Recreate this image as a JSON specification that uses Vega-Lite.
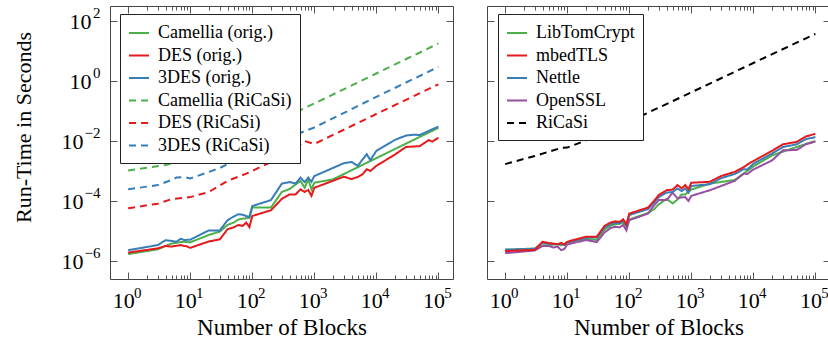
{
  "$schema": "https://vega.github.io/schema/vega-lite/v6.json",
  "background": "white",
  "padding": {"left": 11, "top": 5, "right": 3, "bottom": 2},
  "config": {
    "font": "Liberation Serif",
    "style": {"guide-label": {"font": "Liberation Serif"}, "guide-title": {"font": "Liberation Serif"}},
    "text": {"font": "Liberation Serif"},
    "view": {"stroke": "#444", "strokeWidth": 1},
    "axis": {"grid": false, "domain": false, "tickColor": "#555", "tickWidth": 1, "labelFont": "Liberation Serif", "titleFont": "Liberation Serif", "labelFontSize": 22, "titleFontSize": 22, "titleFontWeight": "normal", "labelColor": "#000", "titleColor": "#000", "labelFlush": false, "labelOverlap": false},
    "legend": {"labelFont": "Liberation Serif", "titleFont": "Liberation Serif", "labelFontSize": 18, "labelColor": "#000"}
  },
  "spacing": 32,
  "resolve": {"scale": {"color": "independent", "strokeDash": "independent"}, "legend": {"color": "independent", "strokeDash": "independent"}},
  "datasets": {
    "left": [
      {"s": "Camellia (orig.)", "x": 1, "y": 1.70e-6}, {"s": "Camellia (orig.)", "x": 3, "y": 2.45e-6}, {"s": "Camellia (orig.)", "x": 4, "y": 3.16e-6}, {"s": "Camellia (orig.)", "x": 5, "y": 3.80e-6}, {"s": "Camellia (orig.)", "x": 7, "y": 4.27e-6}, {"s": "Camellia (orig.)", "x": 8, "y": 4.37e-6}, {"s": "Camellia (orig.)", "x": 10, "y": 4.17e-6}, {"s": "Camellia (orig.)", "x": 20, "y": 7.41e-6}, {"s": "Camellia (orig.)", "x": 30, "y": 9.55e-6}, {"s": "Camellia (orig.)", "x": 40, "y": 1.585e-5}, {"s": "Camellia (orig.)", "x": 50, "y": 1.905e-5}, {"s": "Camellia (orig.)", "x": 60, "y": 2.40e-5}, {"s": "Camellia (orig.)", "x": 70, "y": 2.57e-5}, {"s": "Camellia (orig.)", "x": 90, "y": 2.75e-5}, {"s": "Camellia (orig.)", "x": 100, "y": 6.03e-5}, {"s": "Camellia (orig.)", "x": 200, "y": 6.03e-5}, {"s": "Camellia (orig.)", "x": 300, "y": 2.0e-4}, {"s": "Camellia (orig.)", "x": 400, "y": 2.51e-4}, {"s": "Camellia (orig.)", "x": 500, "y": 3.55e-4}, {"s": "Camellia (orig.)", "x": 600, "y": 4.68e-4}, {"s": "Camellia (orig.)", "x": 700, "y": 2.75e-4}, {"s": "Camellia (orig.)", "x": 800, "y": 5.25e-4}, {"s": "Camellia (orig.)", "x": 900, "y": 2.45e-4}, {"s": "Camellia (orig.)", "x": 1000, "y": 4.07e-4}, {"s": "Camellia (orig.)", "x": 2000, "y": 5.25e-4}, {"s": "Camellia (orig.)", "x": 10000, "y": 2.69e-3}, {"s": "Camellia (orig.)", "x": 100000, "y": 2.75e-2},
      {"s": "DES (orig.)", "x": 1, "y": 1.91e-6}, {"s": "DES (orig.)", "x": 3, "y": 2.63e-6}, {"s": "DES (orig.)", "x": 4, "y": 3.16e-6}, {"s": "DES (orig.)", "x": 5, "y": 3.02e-6}, {"s": "DES (orig.)", "x": 7, "y": 3.39e-6}, {"s": "DES (orig.)", "x": 9, "y": 3.02e-6}, {"s": "DES (orig.)", "x": 10, "y": 2.75e-6}, {"s": "DES (orig.)", "x": 20, "y": 4.47e-6}, {"s": "DES (orig.)", "x": 30, "y": 5.25e-6}, {"s": "DES (orig.)", "x": 40, "y": 1.148e-5}, {"s": "DES (orig.)", "x": 50, "y": 1.318e-5}, {"s": "DES (orig.)", "x": 60, "y": 1.585e-5}, {"s": "DES (orig.)", "x": 70, "y": 1.479e-5}, {"s": "DES (orig.)", "x": 80, "y": 1.905e-5}, {"s": "DES (orig.)", "x": 90, "y": 1.349e-5}, {"s": "DES (orig.)", "x": 100, "y": 3.16e-5}, {"s": "DES (orig.)", "x": 200, "y": 4.90e-5}, {"s": "DES (orig.)", "x": 300, "y": 1.175e-4}, {"s": "DES (orig.)", "x": 400, "y": 1.66e-4}, {"s": "DES (orig.)", "x": 500, "y": 1.66e-4}, {"s": "DES (orig.)", "x": 600, "y": 2.45e-4}, {"s": "DES (orig.)", "x": 700, "y": 2.0e-4}, {"s": "DES (orig.)", "x": 800, "y": 2.34e-4}, {"s": "DES (orig.)", "x": 900, "y": 1.48e-4}, {"s": "DES (orig.)", "x": 1000, "y": 2.75e-4}, {"s": "DES (orig.)", "x": 3000, "y": 6.46e-4}, {"s": "DES (orig.)", "x": 4000, "y": 5.37e-4}, {"s": "DES (orig.)", "x": 5000, "y": 6.31e-4}, {"s": "DES (orig.)", "x": 6000, "y": 7.76e-4}, {"s": "DES (orig.)", "x": 7000, "y": 1.148e-3}, {"s": "DES (orig.)", "x": 8000, "y": 1.0e-3}, {"s": "DES (orig.)", "x": 10000, "y": 1.479e-3}, {"s": "DES (orig.)", "x": 20000, "y": 3.55e-3}, {"s": "DES (orig.)", "x": 30000, "y": 6.31e-3}, {"s": "DES (orig.)", "x": 50000, "y": 6.76e-3}, {"s": "DES (orig.)", "x": 70000, "y": 1.072e-2}, {"s": "DES (orig.)", "x": 80000, "y": 9.55e-3}, {"s": "DES (orig.)", "x": 100000, "y": 1.288e-2},
      {"s": "3DES (orig.)", "x": 1, "y": 2.29e-6}, {"s": "3DES (orig.)", "x": 3, "y": 3.39e-6}, {"s": "3DES (orig.)", "x": 4, "y": 4.90e-6}, {"s": "3DES (orig.)", "x": 5, "y": 4.68e-6}, {"s": "3DES (orig.)", "x": 6, "y": 4.37e-6}, {"s": "3DES (orig.)", "x": 7, "y": 5.50e-6}, {"s": "3DES (orig.)", "x": 8, "y": 5.01e-6}, {"s": "3DES (orig.)", "x": 10, "y": 5.13e-6}, {"s": "3DES (orig.)", "x": 20, "y": 1.047e-5}, {"s": "3DES (orig.)", "x": 30, "y": 1.047e-5}, {"s": "3DES (orig.)", "x": 40, "y": 2.29e-5}, {"s": "3DES (orig.)", "x": 50, "y": 3.02e-5}, {"s": "3DES (orig.)", "x": 60, "y": 3.63e-5}, {"s": "3DES (orig.)", "x": 70, "y": 3.47e-5}, {"s": "3DES (orig.)", "x": 80, "y": 3.16e-5}, {"s": "3DES (orig.)", "x": 90, "y": 2.95e-5}, {"s": "3DES (orig.)", "x": 100, "y": 6.76e-5}, {"s": "3DES (orig.)", "x": 200, "y": 1.072e-4}, {"s": "3DES (orig.)", "x": 300, "y": 3.80e-4}, {"s": "3DES (orig.)", "x": 400, "y": 4.27e-4}, {"s": "3DES (orig.)", "x": 500, "y": 3.80e-4}, {"s": "3DES (orig.)", "x": 600, "y": 6.03e-4}, {"s": "3DES (orig.)", "x": 700, "y": 4.27e-4}, {"s": "3DES (orig.)", "x": 800, "y": 6.03e-4}, {"s": "3DES (orig.)", "x": 900, "y": 4.37e-4}, {"s": "3DES (orig.)", "x": 1000, "y": 6.76e-4}, {"s": "3DES (orig.)", "x": 3000, "y": 1.82e-3}, {"s": "3DES (orig.)", "x": 4000, "y": 2.0e-3}, {"s": "3DES (orig.)", "x": 5000, "y": 1.479e-3}, {"s": "3DES (orig.)", "x": 7000, "y": 3.63e-3}, {"s": "3DES (orig.)", "x": 8000, "y": 2.29e-3}, {"s": "3DES (orig.)", "x": 10000, "y": 4.68e-3}, {"s": "3DES (orig.)", "x": 20000, "y": 1.096e-2}, {"s": "3DES (orig.)", "x": 30000, "y": 1.514e-2}, {"s": "3DES (orig.)", "x": 40000, "y": 1.622e-2}, {"s": "3DES (orig.)", "x": 50000, "y": 1.585e-2}, {"s": "3DES (orig.)", "x": 100000, "y": 3.02e-2},
      {"s": "Camellia (RiCaSi)", "x": 1, "y": 1.047e-3}, {"s": "Camellia (RiCaSi)", "x": 4, "y": 1.585e-3}, {"s": "Camellia (RiCaSi)", "x": 10, "y": 2.40e-3}, {"s": "Camellia (RiCaSi)", "x": 20, "y": 3.55e-3}, {"s": "Camellia (RiCaSi)", "x": 40, "y": 7.08e-3}, {"s": "Camellia (RiCaSi)", "x": 100, "y": 1.66e-2}, {"s": "Camellia (RiCaSi)", "x": 200, "y": 3.39e-2}, {"s": "Camellia (RiCaSi)", "x": 400, "y": 7.08e-2}, {"s": "Camellia (RiCaSi)", "x": 700, "y": 0.1259}, {"s": "Camellia (RiCaSi)", "x": 1000, "y": 0.1778}, {"s": "Camellia (RiCaSi)", "x": 10000, "y": 1.778}, {"s": "Camellia (RiCaSi)", "x": 100000, "y": 17.78},
      {"s": "DES (RiCaSi)", "x": 1, "y": 5.75e-5}, {"s": "DES (RiCaSi)", "x": 3, "y": 8.13e-5}, {"s": "DES (RiCaSi)", "x": 5, "y": 1.148e-4}, {"s": "DES (RiCaSi)", "x": 10, "y": 1.349e-4}, {"s": "DES (RiCaSi)", "x": 20, "y": 2.0e-4}, {"s": "DES (RiCaSi)", "x": 40, "y": 4.68e-4}, {"s": "DES (RiCaSi)", "x": 80, "y": 8.13e-4}, {"s": "DES (RiCaSi)", "x": 100, "y": 1.0e-3}, {"s": "DES (RiCaSi)", "x": 200, "y": 2.0e-3}, {"s": "DES (RiCaSi)", "x": 400, "y": 4.07e-3}, {"s": "DES (RiCaSi)", "x": 700, "y": 1.0e-2}, {"s": "DES (RiCaSi)", "x": 1000, "y": 7.94e-3}, {"s": "DES (RiCaSi)", "x": 10000, "y": 7.94e-2}, {"s": "DES (RiCaSi)", "x": 100000, "y": 0.776},
      {"s": "3DES (RiCaSi)", "x": 1, "y": 2.45e-4}, {"s": "3DES (RiCaSi)", "x": 3, "y": 3.39e-4}, {"s": "3DES (RiCaSi)", "x": 5, "y": 5.01e-4}, {"s": "3DES (RiCaSi)", "x": 6, "y": 6.03e-4}, {"s": "3DES (RiCaSi)", "x": 8, "y": 6.31e-4}, {"s": "3DES (RiCaSi)", "x": 10, "y": 5.62e-4}, {"s": "3DES (RiCaSi)", "x": 20, "y": 9.33e-4}, {"s": "3DES (RiCaSi)", "x": 30, "y": 1.259e-3}, {"s": "3DES (RiCaSi)", "x": 50, "y": 2.14e-3}, {"s": "3DES (RiCaSi)", "x": 100, "y": 3.98e-3}, {"s": "3DES (RiCaSi)", "x": 200, "y": 7.94e-3}, {"s": "3DES (RiCaSi)", "x": 400, "y": 1.318e-2}, {"s": "3DES (RiCaSi)", "x": 700, "y": 2.14e-2}, {"s": "3DES (RiCaSi)", "x": 1000, "y": 2.82e-2}, {"s": "3DES (RiCaSi)", "x": 10000, "y": 0.295}, {"s": "3DES (RiCaSi)", "x": 100000, "y": 2.95}
    ],
    "right": [
      {"s": "LibTomCrypt", "x": 1, "y": 2.34e-6}, {"s": "LibTomCrypt", "x": 3, "y": 2.63e-6}, {"s": "LibTomCrypt", "x": 4, "y": 3.31e-6}, {"s": "LibTomCrypt", "x": 5, "y": 3.39e-6}, {"s": "LibTomCrypt", "x": 7, "y": 3.63e-6}, {"s": "LibTomCrypt", "x": 8, "y": 3.31e-6}, {"s": "LibTomCrypt", "x": 10, "y": 4.17e-6}, {"s": "LibTomCrypt", "x": 20, "y": 5.50e-6}, {"s": "LibTomCrypt", "x": 30, "y": 5.01e-6}, {"s": "LibTomCrypt", "x": 40, "y": 1.122e-5}, {"s": "LibTomCrypt", "x": 50, "y": 1.514e-5}, {"s": "LibTomCrypt", "x": 60, "y": 1.66e-5}, {"s": "LibTomCrypt", "x": 70, "y": 1.738e-5}, {"s": "LibTomCrypt", "x": 80, "y": 1.905e-5}, {"s": "LibTomCrypt", "x": 90, "y": 1.413e-5}, {"s": "LibTomCrypt", "x": 100, "y": 2.40e-5}, {"s": "LibTomCrypt", "x": 200, "y": 3.98e-5}, {"s": "LibTomCrypt", "x": 250, "y": 5.25e-5}, {"s": "LibTomCrypt", "x": 300, "y": 7.76e-5}, {"s": "LibTomCrypt", "x": 400, "y": 1.175e-4}, {"s": "LibTomCrypt", "x": 500, "y": 8.32e-5}, {"s": "LibTomCrypt", "x": 600, "y": 1.122e-4}, {"s": "LibTomCrypt", "x": 700, "y": 1.66e-4}, {"s": "LibTomCrypt", "x": 800, "y": 1.66e-4}, {"s": "LibTomCrypt", "x": 900, "y": 2.0e-4}, {"s": "LibTomCrypt", "x": 1000, "y": 2.40e-4}, {"s": "LibTomCrypt", "x": 2000, "y": 3.80e-4}, {"s": "LibTomCrypt", "x": 5000, "y": 5.01e-4}, {"s": "LibTomCrypt", "x": 10000, "y": 1.413e-3}, {"s": "LibTomCrypt", "x": 20000, "y": 3.31e-3}, {"s": "LibTomCrypt", "x": 50000, "y": 6.31e-3}, {"s": "LibTomCrypt", "x": 80000, "y": 8.71e-3}, {"s": "LibTomCrypt", "x": 100000, "y": 1.0e-2},
      {"s": "OpenSSL", "x": 1, "y": 1.82e-6}, {"s": "OpenSSL", "x": 3, "y": 2.24e-6}, {"s": "OpenSSL", "x": 4, "y": 3.16e-6}, {"s": "OpenSSL", "x": 5, "y": 3.16e-6}, {"s": "OpenSSL", "x": 6, "y": 2.82e-6}, {"s": "OpenSSL", "x": 7, "y": 3.02e-6}, {"s": "OpenSSL", "x": 8, "y": 2.29e-6}, {"s": "OpenSSL", "x": 9, "y": 2.51e-6}, {"s": "OpenSSL", "x": 10, "y": 3.55e-6}, {"s": "OpenSSL", "x": 20, "y": 5.01e-6}, {"s": "OpenSSL", "x": 30, "y": 4.27e-6}, {"s": "OpenSSL", "x": 40, "y": 8.91e-6}, {"s": "OpenSSL", "x": 50, "y": 1.259e-5}, {"s": "OpenSSL", "x": 60, "y": 1.38e-5}, {"s": "OpenSSL", "x": 70, "y": 1.318e-5}, {"s": "OpenSSL", "x": 80, "y": 1.585e-5}, {"s": "OpenSSL", "x": 90, "y": 1.047e-5}, {"s": "OpenSSL", "x": 100, "y": 2.29e-5}, {"s": "OpenSSL", "x": 200, "y": 3.80e-5}, {"s": "OpenSSL", "x": 250, "y": 7.08e-5}, {"s": "OpenSSL", "x": 300, "y": 1.072e-4}, {"s": "OpenSSL", "x": 400, "y": 1.072e-4}, {"s": "OpenSSL", "x": 500, "y": 1.905e-4}, {"s": "OpenSSL", "x": 600, "y": 1.23e-4}, {"s": "OpenSSL", "x": 700, "y": 1.318e-4}, {"s": "OpenSSL", "x": 800, "y": 1.349e-4}, {"s": "OpenSSL", "x": 900, "y": 1.0e-4}, {"s": "OpenSSL", "x": 1000, "y": 1.479e-4}, {"s": "OpenSSL", "x": 2000, "y": 2.29e-4}, {"s": "OpenSSL", "x": 5000, "y": 4.68e-4}, {"s": "OpenSSL", "x": 7000, "y": 8.13e-4}, {"s": "OpenSSL", "x": 8000, "y": 7.94e-4}, {"s": "OpenSSL", "x": 10000, "y": 1.122e-3}, {"s": "OpenSSL", "x": 20000, "y": 2.24e-3}, {"s": "OpenSSL", "x": 30000, "y": 4.90e-3}, {"s": "OpenSSL", "x": 50000, "y": 5.01e-3}, {"s": "OpenSSL", "x": 70000, "y": 7.76e-3}, {"s": "OpenSSL", "x": 100000, "y": 9.55e-3},
      {"s": "Nettle", "x": 1, "y": 2.40e-6}, {"s": "Nettle", "x": 3, "y": 2.51e-6}, {"s": "Nettle", "x": 4, "y": 4.07e-6}, {"s": "Nettle", "x": 5, "y": 3.80e-6}, {"s": "Nettle", "x": 7, "y": 3.63e-6}, {"s": "Nettle", "x": 8, "y": 3.80e-6}, {"s": "Nettle", "x": 9, "y": 3.39e-6}, {"s": "Nettle", "x": 10, "y": 4.17e-6}, {"s": "Nettle", "x": 20, "y": 6.03e-6}, {"s": "Nettle", "x": 30, "y": 6.03e-6}, {"s": "Nettle", "x": 40, "y": 1.318e-5}, {"s": "Nettle", "x": 50, "y": 1.698e-5}, {"s": "Nettle", "x": 60, "y": 1.862e-5}, {"s": "Nettle", "x": 70, "y": 1.82e-5}, {"s": "Nettle", "x": 80, "y": 2.19e-5}, {"s": "Nettle", "x": 90, "y": 1.514e-5}, {"s": "Nettle", "x": 100, "y": 3.39e-5}, {"s": "Nettle", "x": 200, "y": 5.37e-5}, {"s": "Nettle", "x": 250, "y": 8.71e-5}, {"s": "Nettle", "x": 300, "y": 1.349e-4}, {"s": "Nettle", "x": 400, "y": 1.905e-4}, {"s": "Nettle", "x": 500, "y": 2.0e-4}, {"s": "Nettle", "x": 600, "y": 2.63e-4}, {"s": "Nettle", "x": 700, "y": 2.14e-4}, {"s": "Nettle", "x": 800, "y": 2.63e-4}, {"s": "Nettle", "x": 900, "y": 1.905e-4}, {"s": "Nettle", "x": 1000, "y": 3.16e-4}, {"s": "Nettle", "x": 2000, "y": 3.63e-4}, {"s": "Nettle", "x": 3000, "y": 5.75e-4}, {"s": "Nettle", "x": 5000, "y": 7.94e-4}, {"s": "Nettle", "x": 7000, "y": 1.148e-3}, {"s": "Nettle", "x": 8000, "y": 1.122e-3}, {"s": "Nettle", "x": 10000, "y": 1.738e-3}, {"s": "Nettle", "x": 20000, "y": 3.80e-3}, {"s": "Nettle", "x": 30000, "y": 6.31e-3}, {"s": "Nettle", "x": 50000, "y": 7.76e-3}, {"s": "Nettle", "x": 70000, "y": 1.148e-2}, {"s": "Nettle", "x": 100000, "y": 1.349e-2},
      {"s": "mbedTLS", "x": 1, "y": 2.14e-6}, {"s": "mbedTLS", "x": 3, "y": 2.34e-6}, {"s": "mbedTLS", "x": 4, "y": 4.37e-6}, {"s": "mbedTLS", "x": 5, "y": 3.98e-6}, {"s": "mbedTLS", "x": 7, "y": 3.63e-6}, {"s": "mbedTLS", "x": 8, "y": 3.98e-6}, {"s": "mbedTLS", "x": 9, "y": 3.55e-6}, {"s": "mbedTLS", "x": 10, "y": 4.37e-6}, {"s": "mbedTLS", "x": 20, "y": 6.46e-6}, {"s": "mbedTLS", "x": 30, "y": 6.46e-6}, {"s": "mbedTLS", "x": 40, "y": 1.479e-5}, {"s": "mbedTLS", "x": 50, "y": 1.905e-5}, {"s": "mbedTLS", "x": 60, "y": 2.09e-5}, {"s": "mbedTLS", "x": 70, "y": 2.0e-5}, {"s": "mbedTLS", "x": 80, "y": 2.45e-5}, {"s": "mbedTLS", "x": 90, "y": 1.66e-5}, {"s": "mbedTLS", "x": 100, "y": 3.80e-5}, {"s": "mbedTLS", "x": 200, "y": 6.03e-5}, {"s": "mbedTLS", "x": 250, "y": 1.0e-4}, {"s": "mbedTLS", "x": 300, "y": 1.585e-4}, {"s": "mbedTLS", "x": 400, "y": 2.29e-4}, {"s": "mbedTLS", "x": 500, "y": 2.40e-4}, {"s": "mbedTLS", "x": 600, "y": 3.39e-4}, {"s": "mbedTLS", "x": 700, "y": 2.63e-4}, {"s": "mbedTLS", "x": 800, "y": 3.39e-4}, {"s": "mbedTLS", "x": 900, "y": 2.45e-4}, {"s": "mbedTLS", "x": 1000, "y": 4.07e-4}, {"s": "mbedTLS", "x": 2000, "y": 4.37e-4}, {"s": "mbedTLS", "x": 3000, "y": 6.76e-4}, {"s": "mbedTLS", "x": 5000, "y": 9.33e-4}, {"s": "mbedTLS", "x": 7000, "y": 1.349e-3}, {"s": "mbedTLS", "x": 9000, "y": 1.905e-3}, {"s": "mbedTLS", "x": 20000, "y": 4.68e-3}, {"s": "mbedTLS", "x": 30000, "y": 7.76e-3}, {"s": "mbedTLS", "x": 50000, "y": 9.33e-3}, {"s": "mbedTLS", "x": 70000, "y": 1.413e-2}, {"s": "mbedTLS", "x": 100000, "y": 1.738e-2},
      {"s": "RiCaSi", "x": 1, "y": 1.698e-3}, {"s": "RiCaSi", "x": 3, "y": 3.16e-3}, {"s": "RiCaSi", "x": 8, "y": 5.89e-3}, {"s": "RiCaSi", "x": 10, "y": 6.03e-3}, {"s": "RiCaSi", "x": 20, "y": 1.047e-2}, {"s": "RiCaSi", "x": 40, "y": 1.905e-2}, {"s": "RiCaSi", "x": 100, "y": 4.47e-2}, {"s": "RiCaSi", "x": 1000, "y": 0.417}, {"s": "RiCaSi", "x": 10000, "y": 3.98}, {"s": "RiCaSi", "x": 100000, "y": 37.2}
    ]
  },
  "hconcat": [
    {
      "width": 343, "height": 273,
      "data": {"name": "left"},
      "resolve": {"axis": {"x": "independent", "y": "independent"}},
      "layer": [
        {
          "mark": {"type": "line", "strokeWidth": 2, "clip": true},
          "encoding": {
            "x": {"field": "x", "type": "quantitative", "scale": {"type": "log", "domain": [0.51, 172000], "nice": false},
              "axis": {"orient": "bottom", "title": "Number of Blocks", "titleFontSize": 23, "values": [1, 10, 100, 1000, 10000, 100000], "ticks": false, "labelExpr": "'10'", "labelFontSize": 22, "labelOffset": -5, "labelPadding": 11, "titlePadding": 5}},
            "y": {"field": "y", "type": "quantitative", "scale": {"type": "log", "domain": [2.51e-7, 316], "nice": false},
              "axis": {"orient": "left", "title": "Run-Time in Seconds", "titleY": 121, "values": [1e-6, 1e-4, 1e-2, 1, 100], "ticks": false, "labelExpr": "'10'", "labelFontSize": 22, "labelOffset": 1,
                "labelPadding": {"condition": {"test": "datum.value < 0.5", "value": 27}, "value": 19}, "titlePadding": 26}},
            "color": {"field": "s", "type": "nominal",
              "scale": {"domain": ["Camellia (orig.)", "DES (orig.)", "3DES (orig.)", "Camellia (RiCaSi)", "DES (RiCaSi)", "3DES (RiCaSi)"], "range": ["#4daf4a", "#e41a1c", "#377eb8", "#4daf4a", "#e41a1c", "#377eb8"]},
              "legend": {"title": null, "orient": "none", "legendX": 10, "legendY": 8, "symbolType": "stroke", "symbolSize": 400, "symbolStrokeWidth": 2, "rowPadding": 2.5, "padding": 8, "labelOffset": 8, "labelFont": "Liberation Serif", "labelFontSize": 18, "strokeColor": "#222", "fillColor": "white"}},
            "strokeDash": {"field": "s", "type": "nominal",
              "scale": {"domain": ["Camellia (orig.)", "DES (orig.)", "3DES (orig.)", "Camellia (RiCaSi)", "DES (RiCaSi)", "3DES (RiCaSi)"], "range": [[1, 0], [1, 0], [1, 0], [7, 5], [7, 5], [7, 5]]},
              "legend": {"title": null, "orient": "none", "legendX": 10, "legendY": 8, "symbolType": "stroke", "symbolSize": 400, "symbolStrokeWidth": 2, "rowPadding": 2.5, "padding": 8, "labelOffset": 8, "labelFont": "Liberation Serif", "labelFontSize": 18, "strokeColor": "#222", "fillColor": "white"}}
          }
        },
        {
          "mark": {"type": "point", "opacity": 0},
          "encoding": {
            "x": {"field": "x", "type": "quantitative", "axis": {"orient": "top", "title": null, "labels": false, "values": [1,2,3,4,5,6,7,8,9,10,20,30,40,50,60,70,80,90,100,200,300,400,500,600,700,800,900,1000,2000,3000,4000,5000,6000,7000,8000,9000,10000,20000,30000,40000,50000,60000,70000,80000,90000,100000],
              "tickSize": {"condition": {"test": "abs(log(datum.value)/LN10 - round(log(datum.value)/LN10)) < 0.01", "value": -7}, "value": -4}}},
            "y": {"field": "y", "type": "quantitative", "axis": {"orient": "right", "title": null, "labels": false, "values": [1e-6, 1e-4, 1e-2, 1, 100], "tickSize": -7}}
          }
        },
        {
          "mark": {"type": "point", "opacity": 0},
          "encoding": {
            "x": {"field": "x", "type": "quantitative", "axis": {"orient": "bottom", "title": null, "labels": false, "values": [1,2,3,4,5,6,7,8,9,10,20,30,40,50,60,70,80,90,100,200,300,400,500,600,700,800,900,1000,2000,3000,4000,5000,6000,7000,8000,9000,10000,20000,30000,40000,50000,60000,70000,80000,90000,100000],
              "tickSize": {"condition": {"test": "abs(log(datum.value)/LN10 - round(log(datum.value)/LN10)) < 0.01", "value": -7}, "value": -4}}},
            "y": {"field": "y", "type": "quantitative", "axis": {"orient": "left", "title": null, "labels": false, "values": [1e-6, 1e-4, 1e-2, 1, 100], "tickSize": -7}}
          }
        },
        {
          "mark": {"type": "point", "opacity": 0},
          "encoding": {
            "x": {"field": "x", "type": "quantitative", "axis": {"orient": "bottom", "title": null, "ticks": false, "values": [1, 10, 100, 1000, 10000, 100000],
              "labelExpr": "['0','1','2','3','4','5'][round(log(datum.value)/LN10)]", "labelFontSize": 15, "labelOffset": 9, "labelPadding": 6}},
            "y": {"field": "y", "type": "quantitative", "axis": {"orient": "left", "title": null, "ticks": false, "values": [1e-6, 1e-4, 1e-2, 1, 100],
              "labelExpr": "(datum.value < 0.5 ? '−' : '') + ['0','1','2','3','4','5','6'][abs(round(log(datum.value)/LN10))]", "labelFontSize": 15, "labelOffset": -8, "labelPadding": 10}}
          }
        }
      ]
    },
    {
      "width": 343, "height": 273,
      "data": {"name": "right"},
      "resolve": {"axis": {"x": "independent", "y": "independent"}},
      "layer": [
        {
          "mark": {"type": "line", "strokeWidth": 2, "clip": true},
          "encoding": {
            "x": {"field": "x", "type": "quantitative", "scale": {"type": "log", "domain": [0.51, 172000], "nice": false},
              "axis": {"orient": "bottom", "title": "Number of Blocks", "titleFontSize": 23, "values": [1, 10, 100, 1000, 10000, 100000], "ticks": false, "labelExpr": "'10'", "labelFontSize": 22, "labelOffset": -5, "labelPadding": 11, "titlePadding": 5}},
            "y": {"field": "y", "type": "quantitative", "scale": {"type": "log", "domain": [2.51e-7, 316], "nice": false},
              "axis": {"orient": "left", "title": null, "labels": false, "values": [1e-6, 1e-4, 1e-2, 1, 100], "tickSize": -7}},
            "color": {"field": "s", "type": "nominal",
              "scale": {"domain": ["LibTomCrypt", "mbedTLS", "Nettle", "OpenSSL", "RiCaSi"], "range": ["#4daf4a", "#e41a1c", "#377eb8", "#984ea3", "#000000"]},
              "legend": {"title": null, "orient": "none", "legendX": 11, "legendY": 8, "symbolType": "stroke", "symbolSize": 400, "symbolStrokeWidth": 2, "rowPadding": 2.5, "padding": 8, "labelOffset": 8, "labelFont": "Liberation Serif", "labelFontSize": 18, "strokeColor": "#222", "fillColor": "white"}},
            "strokeDash": {"field": "s", "type": "nominal",
              "scale": {"domain": ["LibTomCrypt", "mbedTLS", "Nettle", "OpenSSL", "RiCaSi"], "range": [[1, 0], [1, 0], [1, 0], [1, 0], [7, 5]]},
              "legend": {"title": null, "orient": "none", "legendX": 11, "legendY": 8, "symbolType": "stroke", "symbolSize": 400, "symbolStrokeWidth": 2, "rowPadding": 2.5, "padding": 8, "labelOffset": 8, "labelFont": "Liberation Serif", "labelFontSize": 18, "strokeColor": "#222", "fillColor": "white"}}
          }
        },
        {
          "mark": {"type": "point", "opacity": 0},
          "encoding": {
            "x": {"field": "x", "type": "quantitative", "axis": {"orient": "top", "title": null, "labels": false, "values": [1,2,3,4,5,6,7,8,9,10,20,30,40,50,60,70,80,90,100,200,300,400,500,600,700,800,900,1000,2000,3000,4000,5000,6000,7000,8000,9000,10000,20000,30000,40000,50000,60000,70000,80000,90000,100000],
              "tickSize": {"condition": {"test": "abs(log(datum.value)/LN10 - round(log(datum.value)/LN10)) < 0.01", "value": -7}, "value": -4}}},
            "y": {"field": "y", "type": "quantitative", "axis": {"orient": "right", "title": null, "labels": false, "values": [1e-6, 1e-4, 1e-2, 1, 100], "tickSize": -7}}
          }
        },
        {
          "mark": {"type": "point", "opacity": 0},
          "encoding": {
            "x": {"field": "x", "type": "quantitative", "axis": {"orient": "bottom", "title": null, "labels": false, "values": [1,2,3,4,5,6,7,8,9,10,20,30,40,50,60,70,80,90,100,200,300,400,500,600,700,800,900,1000,2000,3000,4000,5000,6000,7000,8000,9000,10000,20000,30000,40000,50000,60000,70000,80000,90000,100000],
              "tickSize": {"condition": {"test": "abs(log(datum.value)/LN10 - round(log(datum.value)/LN10)) < 0.01", "value": -7}, "value": -4}}},
            "y": {"field": "y", "type": "quantitative", "axis": null}
          }
        },
        {
          "mark": {"type": "point", "opacity": 0},
          "encoding": {
            "x": {"field": "x", "type": "quantitative", "axis": {"orient": "bottom", "title": null, "ticks": false, "values": [1, 10, 100, 1000, 10000, 100000],
              "labelExpr": "['0','1','2','3','4','5'][round(log(datum.value)/LN10)]", "labelFontSize": 15, "labelOffset": 9, "labelPadding": 6}},
            "y": {"field": "y", "type": "quantitative", "axis": null}
          }
        }
      ]
    }
  ]
}
